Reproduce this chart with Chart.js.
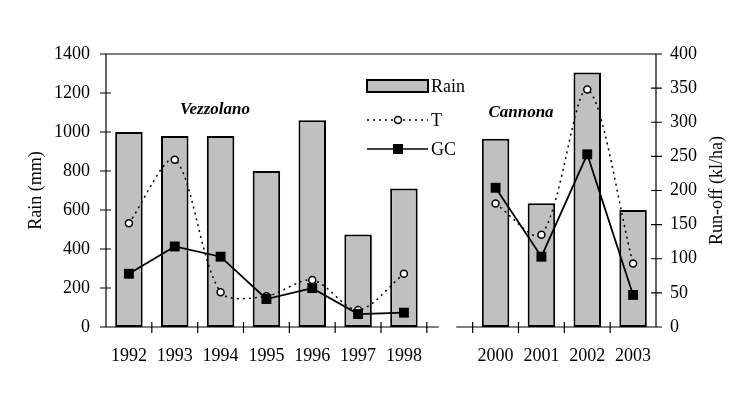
<!DOCTYPE html>
<html>
<head>
<meta charset="utf-8">
<script src="https://cdn.jsdelivr.net/npm/chart.js@4"></script>
<style>
  body { margin: 0; background: #fff; }
</style>
</head>
<body>
<canvas id="rainChart" width="742" height="394"></canvas>
<script>
// data
const years = ['1992', '1993', '1994', '1995', '1996', '1997', '1998', '', '2000', '2001', '2002', '2003'];
const rain = [1000, 980, 980, 800, 1060, 475, 710, null, 965, 635, 1305, 600];
const runoffT = [152, 245, 51, 45, 69, 25, 78, null, 181, 135, 348, 93];
const runoffGC = [78, 118, 103, 41, 57, 19, 21, null, 204, 103, 253, 47];
const rainTicks = [0, 200, 400, 600, 800, 1000, 1200, 1400];
const runoffTicks = [0, 50, 100, 150, 200, 250, 300, 350, 400];

const FONT = 'Liberation Serif';
const barGrey = '#c0c0c0';

// axes frame, with the break in the x axis between the two sites
const frame = {
  id: 'frame',
  beforeDatasetsDraw(chart) {
    const {ctx, chartArea: a, scales} = chart;
    ctx.save();
    ctx.strokeStyle = '#000';
    ctx.lineWidth = 1.2;
    ctx.beginPath();
    ctx.moveTo(a.left, a.bottom);
    ctx.lineTo(a.left, a.top);
    ctx.lineTo(a.right, a.top);
    ctx.lineTo(a.right, a.bottom);
    scales.y.ticks.forEach(t => {
      const y = scales.y.getPixelForValue(t.value);
      ctx.moveTo(a.left - 6, y);
      ctx.lineTo(a.left + 5, y);
    });
    scales.y1.ticks.forEach(t => {
      const y = scales.y1.getPixelForValue(t.value);
      ctx.moveTo(a.right - 5, y);
      ctx.lineTo(a.right + 6, y);
    });
    const cw = (a.right - a.left) / years.length;
    const gap = years.indexOf('');
    const g0 = a.left + gap * cw;
    ctx.moveTo(a.left, a.bottom);
    ctx.lineTo(g0 + 0.26 * cw, a.bottom);
    ctx.moveTo(g0 + 0.64 * cw, a.bottom);
    ctx.lineTo(a.right, a.bottom);
    for (let k = 1; k < years.length; k++) {
      const x = a.left + k * cw;
      ctx.moveTo(x, a.bottom - 5);
      ctx.lineTo(x, a.bottom + 6);
    }
    ctx.stroke();
    ctx.restore();
  }
};

// legend, site names and right axis title
const extras = {
  id: 'extras',
  afterDraw(chart) {
    const {ctx, chartArea: a} = chart;
    ctx.save();
    ctx.fillStyle = '#000';
    ctx.textBaseline = 'middle';
    ctx.font = '18px "' + FONT + '"';

    // Rain
    ctx.fillStyle = barGrey;
    ctx.fillRect(367, 80, 61, 12);
    ctx.strokeStyle = '#000';
    ctx.lineWidth = 2;
    ctx.strokeRect(367, 80, 61, 12);
    ctx.fillStyle = '#000';
    ctx.textAlign = 'left';
    ctx.fillText('Rain', 431, 87);

    // T
    ctx.lineWidth = 1.5;
    ctx.setLineDash([2, 4]);
    ctx.beginPath();
    ctx.moveTo(367, 120);
    ctx.lineTo(428, 120);
    ctx.stroke();
    ctx.setLineDash([]);
    ctx.beginPath();
    ctx.arc(398, 120, 3.5, 0, Math.PI * 2);
    ctx.fillStyle = '#fff';
    ctx.fill();
    ctx.stroke();
    ctx.fillStyle = '#000';
    ctx.fillText('T', 431, 121);

    // GC
    ctx.beginPath();
    ctx.moveTo(367, 149);
    ctx.lineTo(428, 149);
    ctx.stroke();
    ctx.fillRect(393, 144, 10, 10);
    ctx.fillText('GC', 431, 150);

    // site names
    ctx.font = 'italic bold 17px "' + FONT + '"';
    ctx.textAlign = 'center';
    ctx.fillText('Vezzolano', 215, 110);
    ctx.fillText('Cannona', 521, 113);

    // right axis title, reading upwards
    ctx.font = '18px "' + FONT + '"';
    ctx.translate(717, (a.top + a.bottom) / 2);
    ctx.rotate(-Math.PI / 2);
    ctx.fillText('Run-off (kl/ha)', 0, 0);
    ctx.restore();
  }
};

const tickFont = {family: FONT, size: 18};

new Chart(document.getElementById('rainChart'), {
  type: 'bar',
  data: {
    labels: years,
    datasets: [{
      label: 'Rain',
      data: rain,
      yAxisID: 'y',
      backgroundColor: barGrey,
      borderColor: '#000',
      borderWidth: 2,
      borderSkipped: false,
      categoryPercentage: 1,
      barPercentage: 0.6,
      order: 3
    }, {
      type: 'line',
      label: 'T',
      data: runoffT,
      yAxisID: 'y1',
      borderColor: '#000',
      borderWidth: 1.5,
      borderDash: [2, 4],
      tension: 0.3,
      pointRadius: 3.5,
      pointBorderWidth: 1.5,
      pointBackgroundColor: '#fff',
      pointBorderColor: '#000',
      spanGaps: false,
      order: 2
    }, {
      type: 'line',
      label: 'GC',
      data: runoffGC,
      yAxisID: 'y1',
      borderColor: '#000',
      borderWidth: 1.8,
      tension: 0,
      pointStyle: 'rect',
      pointRadius: 7,
      pointBackgroundColor: '#000',
      pointBorderColor: '#000',
      pointBorderWidth: 0,
      spanGaps: false,
      order: 1
    }]
  },
  options: {
    responsive: false,
    animation: false,
    devicePixelRatio: 1,
    layout: {padding: {top: 54, left: 0, right: 0, bottom: 0}},
    plugins: {
      legend: {display: false},
      tooltip: {enabled: false}
    },
    scales: {
      x: {
        offset: true,
        grid: {display: false, drawTicks: false},
        border: {display: false},
        ticks: {font: tickFont, color: '#000', padding: 18, maxRotation: 0, autoSkip: false},
        afterFit: s => { s.height = 67; }
      },
      y: {
        position: 'left',
        min: 0,
        max: 1400,
        afterBuildTicks: s => { s.ticks = rainTicks.map(v => ({value: v})); },
        grid: {display: false, drawTicks: false},
        border: {display: false},
        ticks: {font: tickFont, color: '#000', padding: 16, callback: v => String(v)},
        title: {display: true, text: 'Rain (mm)', font: tickFont, color: '#000', padding: {top: 25}},
        afterFit: s => { s.width = 106; }
      },
      y1: {
        position: 'right',
        min: 0,
        max: 400,
        afterBuildTicks: s => { s.ticks = runoffTicks.map(v => ({value: v})); },
        grid: {display: false, drawTicks: false},
        border: {display: false},
        ticks: {font: tickFont, color: '#000', padding: 14, callback: v => String(v)},
        afterFit: s => { s.width = 86; }
      }
    }
  },
  plugins: [frame, extras]
});
</script>
</body>
</html>
